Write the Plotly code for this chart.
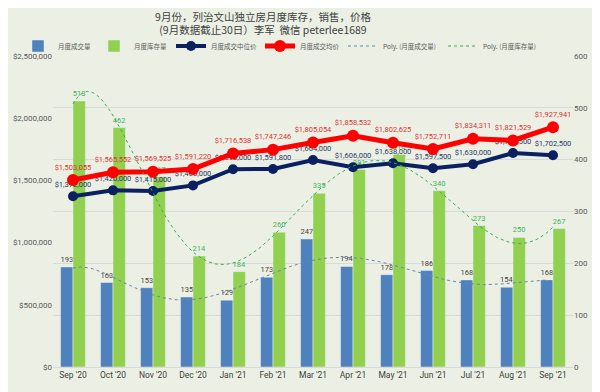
import numpy as np
import plotly.graph_objects as go

months = ["Sep '20", "Oct '20", "Nov '20", "Dec '20", "Jan '21", "Feb '21", "Mar '21",
          "Apr '21", "May '21", "Jun '21", "Jul '21", "Aug '21", "Sep '21"]
sales = [193, 163, 153, 135, 129, 173, 247, 194, 178, 186, 168, 154, 168]
inventory = [513, 462, 367, 214, 184, 260, 335, 381, 410, 340, 273, 250, 267]
median_price = [1372000, 1420000, 1415000, 1460000, 1590000, 1591800, 1664000,
                1606000, 1638000, 1597500, 1630000, 1720500, 1702500]
mean_price = [1503055, 1565552, 1569525, 1591220, 1716538, 1747246, 1805054,
              1858532, 1802625, 1752711, 1834311, 1821529, 1927941]

x = list(range(len(months)))
xd = np.linspace(0, len(months) - 1, 200)
sales_trend = np.polyval(np.polyfit(x, sales, 6), xd)
inv_trend = np.polyval(np.polyfit(x, inventory, 6), xd)

BG = "rgb(236,240,228)"
LBL = "Roboto, Liberation Sans, sans-serif"

fig = go.Figure()
fig.add_trace(go.Bar(x=x, y=sales, name="月度成交量", marker_color="#4F81BD",
                     text=[str(v) for v in sales], textposition="outside",
                     textfont=dict(size=7.5, color="#404040", family=LBL),
                     constraintext="none", cliponaxis=False, yaxis="y", legend="legend"))
fig.add_trace(go.Bar(x=x, y=inventory, name="月度库存量", marker_color="#92D050",
                     text=[str(v) for v in inventory], textposition="outside",
                     textfont=dict(size=7.5, color="#3CB45A", family=LBL),
                     constraintext="none", cliponaxis=False, yaxis="y", legend="legend2"))
fig.add_trace(go.Scatter(x=x, y=median_price, name="月度成交中位价", mode="lines+markers+text",
                         line=dict(color="#0B2060", width=4), marker=dict(size=10, color="#0B2060"),
                         text=[f"${v:,.0f}" for v in median_price], textposition="top center",
                         textfont=dict(size=7.5, color="#1F3864", family=LBL),
                         cliponaxis=False, yaxis="y2", legend="legend3"))
fig.add_trace(go.Scatter(x=x, y=mean_price, name="月度成交均价", mode="lines+markers+text",
                         line=dict(color="#FF0000", width=5), marker=dict(size=12, color="#FF0000"),
                         text=[f"${v:,.0f}" for v in mean_price], textposition="top center",
                         textfont=dict(size=7.5, color="#E03030", family=LBL),
                         cliponaxis=False, yaxis="y2", legend="legend4"))
fig.add_trace(go.Scatter(x=xd, y=sales_trend, name="Poly. (月度成交量)", mode="lines",
                         line=dict(color="#6A85A8", width=1, dash="dot"), yaxis="y3",
                         legend="legend5"))
fig.add_trace(go.Scatter(x=xd, y=inv_trend, name="Poly. (月度库存量)", mode="lines",
                         line=dict(color="#2DB050", width=1, dash="dot"), yaxis="y3",
                         legend="legend6"))

# page body has an 8px margin, so the figure is drawn 8px in from the top-left
OFF = 8
W, H = 600 - OFF, 392 - OFF
PL, PR, PT, PB = 53 - OFF, 600 - 573, 56 - OFF, 392 - 367
PW, PH = W - PL - PR, H - PT - PB


def leg(px):
    return dict(orientation="h", x=(px - OFF - PL) / PW, xanchor="left",
                y=1 + (PT - (46 - OFF)) / PH, yanchor="middle",
                font=dict(size=6.5, color="#595959"), bgcolor="rgba(0,0,0,0)",
                itemwidth=30)


fig.update_layout(
    width=W, height=H, showlegend=True,
    paper_bgcolor=BG, plot_bgcolor=BG,
    margin=dict(l=PL, r=PR, t=PT, b=PB, autoexpand=False),
    barmode="group", bargap=0.38, bargroupgap=0,
    font=dict(family="Noto Sans CJK SC, sans-serif", color="#595959"),
    title=dict(text="9月份，列治文山独立房月度库存，销售，价格<br>(9月数据截止30日）李军  微信 peterlee1689",
               x=(263 - OFF) / W, xanchor="center", xref="container", y=1 - 12.5 / H, yanchor="top",
               yref="container", font=dict(size=10.5, color="#404040")),
    legend=leg(18), legend2=leg(94), legend3=leg(171),
    legend4=leg(260), legend5=leg(343), legend6=leg(443),
    xaxis=dict(tickmode="array", tickvals=x, ticktext=months, range=[-0.5, len(months) - 0.5],
               showgrid=False, zeroline=False, showline=True, linecolor="#D9D9D9",
               tickfont=dict(size=8.5, family=LBL, color="#404040"), ticks=""),
    yaxis=dict(side="right", range=[0, 600], dtick=100, showgrid=True, gridcolor="#D9D9D9",
               zeroline=False, tickfont=dict(size=8, family=LBL, color="#595959")),
    yaxis2=dict(side="left", overlaying="y", range=[0, 2500000], dtick=500000, tickformat="$,.0f",
                showgrid=False, zeroline=False, tickfont=dict(size=8, family=LBL, color="#595959")),
    yaxis3=dict(overlaying="y", range=[0, 600], visible=False),
)

fig.write_html("out.html")
